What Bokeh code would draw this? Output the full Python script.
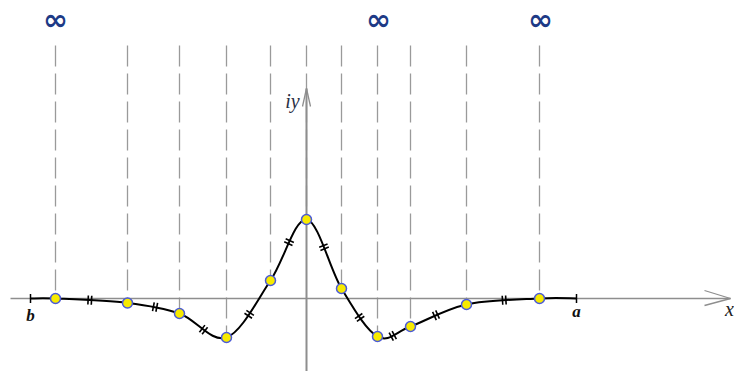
import numpy as np
from bokeh.plotting import figure
from bokeh.models import Range1d
from bokeh.core.properties import value
from bokeh.embed import file_html
from bokeh.resources import INLINE

# node abscissae and ordinates (1 unit = 10 px in the reference)
node_x = [-25.1, -17.9, -12.7, -8.0, -3.6, 0.0, 3.5, 7.1, 10.4, 16.0, 23.3]
node_y = [0.0, -0.45, -1.5, -3.9, 1.8, 7.9, 1.0, -3.8, -2.8, -0.6, 0.0]
end_b = -27.6
end_a = 27.0
infinity_x = [-25.1, 7.2, 23.4]
infinity_labels = ["∞", "∞", "∞"]
end_labels = ["b", "a"]

W, H = 734, 371
p = figure(width=W, height=H, output_backend="svg", toolbar_location=None,
           x_range=Range1d(-30.6, 42.8), y_range=Range1d(-7.3, 29.8),
           min_border=0)
p.axis.visible = False
p.grid.visible = False
p.outline_line_color = None
p.background_fill_color = "white"

# dashed vertical lines
top = 25.3
p.segment(x0=node_x, y0=[top] * len(node_x), x1=node_x, y1=node_y,
          line_color="#9a9a9a", line_width=1.3, line_dash="21 7")

# axes
axc = "#8e8e8e"
p.segment(x0=[-29.6], y0=[0], x1=[42.4], y1=[0], line_color=axc, line_width=1.5)
p.segment(x0=[0], y0=[-8.2], x1=[0], y1=[21.0], line_color=axc, line_width=2)
p.segment(x0=[42.4, 42.4], y0=[0, 0], x1=[39.8, 39.8], y1=[0.8, -0.7],
          line_color=axc, line_width=1.3)
p.segment(x0=[0, 0], y0=[21.0, 21.0], x1=[-0.4, 0.4], y1=[19.2, 19.2],
          line_color=axc, line_width=1.3)

# curve through nodes (Catmull-Rom as cubic Bezier)
cx = [end_b] + node_x + [end_a]
cy = [0.0] + node_y + [0.0]
P = np.column_stack([cx, cy])
ext = np.vstack([P[0], P, P[-1]])
x0s, y0s, x1s, y1s, c0x, c0y, c1x, c1y = [], [], [], [], [], [], [], []
for i in range(len(P) - 1):
    p0, p1, p2, p3 = ext[i], ext[i + 1], ext[i + 2], ext[i + 3]
    c1 = p1 + (p2 - p0) / 6.0
    c2 = p2 - (p3 - p1) / 6.0
    x0s.append(p1[0]); y0s.append(p1[1]); x1s.append(p2[0]); y1s.append(p2[1])
    c0x.append(c1[0]); c0y.append(c1[1]); c1x.append(c2[0]); c1y.append(c2[1])
p.bezier(x0=x0s, y0=y0s, x1=x1s, y1=y1s, cx0=c0x, cy0=c0y, cx1=c1x, cy1=c1y,
         line_color="black", line_width=2)

# double hash marks at the middle of each node-to-node segment
hx0, hy0, hx1, hy1 = [], [], [], []
for i in range(1, len(P) - 2):
    a0 = np.array([x0s[i], y0s[i]]); a3 = np.array([x1s[i], y1s[i]])
    a1 = np.array([c0x[i], c0y[i]]); a2 = np.array([c1x[i], c1y[i]])
    m = 0.125 * a0 + 0.375 * a1 + 0.375 * a2 + 0.125 * a3
    d = 0.75 * (a3 + a2 - a1 - a0)
    t = d / np.linalg.norm(d)
    n = np.array([-t[1], t[0]])
    for s in (-0.17, 0.17):
        c = m + s * t
        hx0.append(c[0] - 0.45 * n[0]); hy0.append(c[1] - 0.45 * n[1])
        hx1.append(c[0] + 0.45 * n[0]); hy1.append(c[1] + 0.45 * n[1])
p.segment(x0=hx0, y0=hy0, x1=hx1, y1=hy1, line_color="black", line_width=1.6)

# end ticks
p.segment(x0=[end_b, end_a], y0=[-0.45, -0.45], x1=[end_b, end_a], y1=[0.45, 0.45],
          line_color="black", line_width=1.5)

# node markers
p.scatter(node_x, node_y, size=10, fill_color="#f7ea00", line_color="#4b5bd6",
          line_width=1.5)

# labels
p.text(x=[end_b, end_a], y=[-1.7, -1.3], text=end_labels,
       text_font=value("Liberation Serif"), text_font_style="bold italic",
       text_font_size="17px", text_align="center", text_baseline="middle",
       text_color="#111111")
p.text(x=[42.3], y=[-1.0], text=["x"], text_font=value("Liberation Serif"),
       text_font_style="italic", text_font_size="20px", text_align="center",
       text_baseline="middle", text_color="#222222")
p.text(x=[-1.4], y=[19.8], text=["iy"], text_font=value("Liberation Serif"),
       text_font_style="italic", text_font_size="20px", text_align="center",
       text_baseline="middle", text_color="#2a2f45")
p.text(x=infinity_x, y=[27.9] * 3, text=infinity_labels,
       text_font=value("DejaVu Sans"), text_font_style="bold",
       text_font_size="30px", text_align="center", text_baseline="middle",
       text_color="#1d3a86")

open("out.html", "w").write(file_html(p, INLINE))
